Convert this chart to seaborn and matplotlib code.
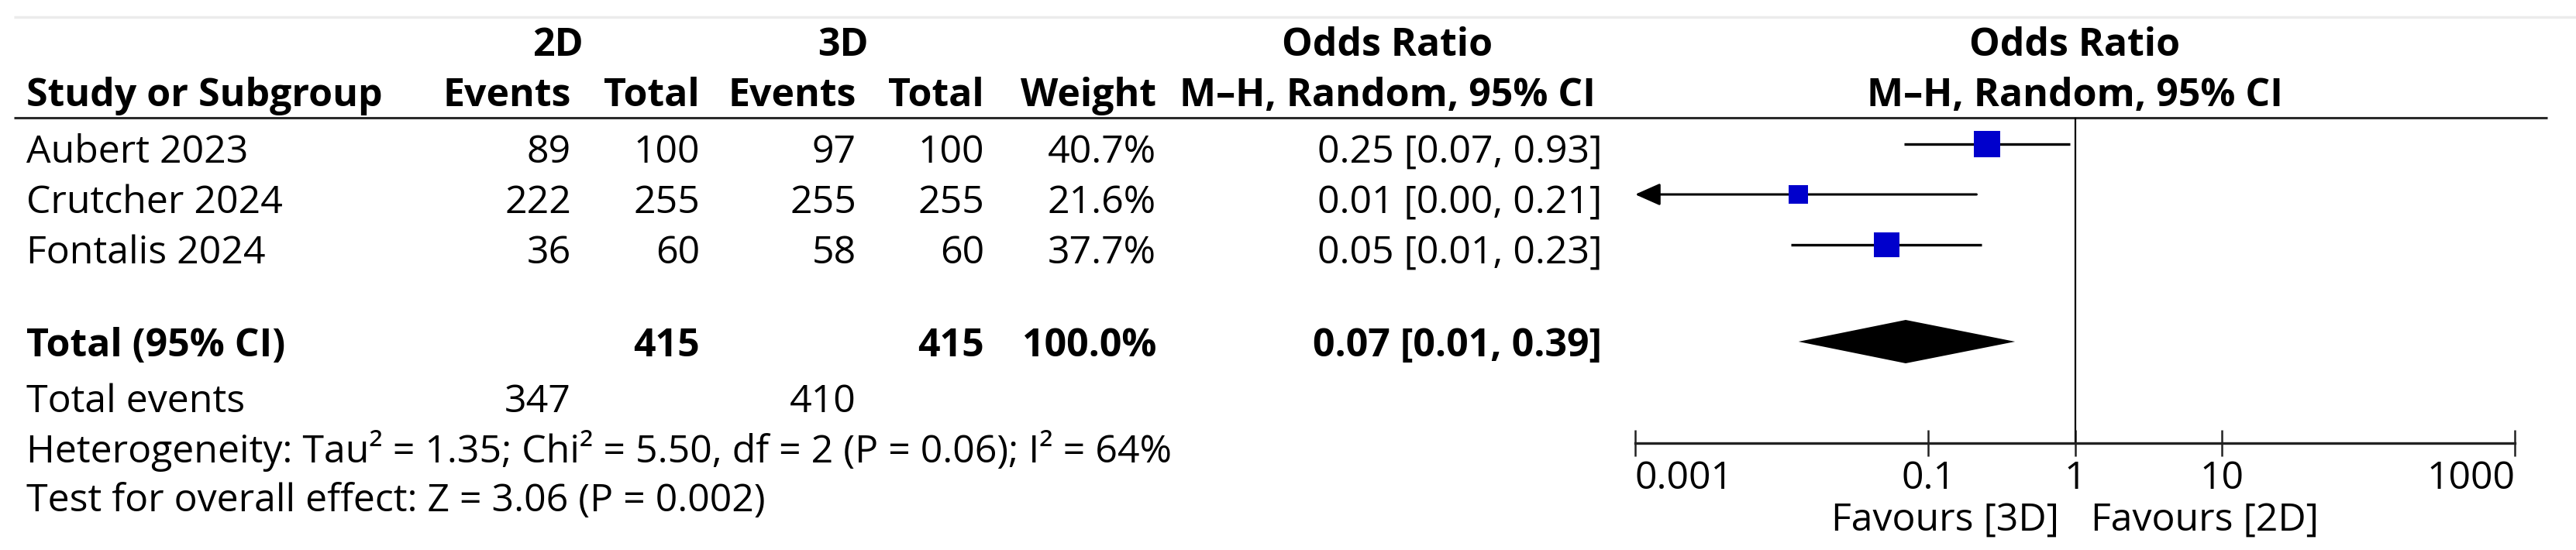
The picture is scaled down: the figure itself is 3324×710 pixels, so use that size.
import numpy as np
import pandas as pd
import seaborn as sns
import matplotlib.pyplot as plt

# forest plot: 2D vs 3D, odds ratio (M-H, random)

studies = ['Aubert 2023', 'Crutcher 2024', 'Fontalis 2024']
events_2d = [89, 222, 36]
total_2d = [100, 255, 60]
events_3d = [97, 255, 58]
total_3d = [100, 255, 60]
weights = [40.7, 21.6, 37.7]
or_est = [0.250, 0.013, 0.052]
or_low = [0.068, 0.0008, 0.0115]
or_high = [0.926, 0.213, 0.232]

pooled_est = 0.070
pooled_low = 0.013
pooled_high = 0.39

het_text = 'Heterogeneity: Tau\u00b2 = 1.35; Chi\u00b2 = 5.50, df = 2 (P = 0.06); I\u00b2 = 64%'
test_text = 'Test for overall effect: Z = 3.06 (P = 0.002)'

tick_vals = [0.001, 0.1, 1, 10, 1000]
tick_labels = ['0.001', '0.1', '1', '10', '1000']

# layout (pixel coords of the 3324x710 canvas)
W, H = 3324, 710
X_STUDY = 34
X_EV2, X_TOT2, X_EV3, X_TOT3, X_WT, X_OR = 737, 903, 1105, 1270, 1492, 2067
X_2D, X_3D, X_ORHEAD = 720, 1088, 1790
PLOT_L, PLOT_R = 2110, 3245
Y_H1, Y_H2 = 72, 137
row_base = [210, 275, 340]
row_mid = [186, 251, 316]
Y_TOTAL, Y_EVENTS, Y_HET, Y_TEST = 460, 532, 597, 660
Y_DIAMOND = 441
Y_RULE, Y_AXIS = 152, 572
FS = 36

sns.set_theme(style='white')
plt.rcParams['font.family'] = ['Open Sans', 'DejaVu Sans']
plt.rcParams['text.color'] = 'black'
plt.rcParams['xtick.color'] = 'black'

fig = plt.figure(figsize=(W / 100, H / 100), dpi=100)

# table part
ax_txt = fig.add_axes([0, 0, 1, 1])
ax_txt.set_xlim(0, W)
ax_txt.set_ylim(H, 0)
ax_txt.axis('off')

ax_txt.hlines(22, 18, W, color='#ebebeb', lw=2.5)
ax_txt.hlines(Y_RULE, 18, 3287, color='#2a2a2a', lw=2.2)

def txt(x, y, s, ha='right', bold=False):
    ax_txt.text(x, y, s, ha=ha, va='baseline', fontsize=FS,
                fontweight='bold' if bold else 'normal')

txt(X_2D, Y_H1, '2D', ha='center', bold=True)
txt(X_3D, Y_H1, '3D', ha='center', bold=True)
txt(X_ORHEAD, Y_H1, 'Odds Ratio', ha='center', bold=True)
txt(X_STUDY, Y_H2, 'Study or Subgroup', ha='left', bold=True)
for x, s in zip([X_EV2, X_TOT2, X_EV3, X_TOT3, X_WT],
                ['Events', 'Total', 'Events', 'Total', 'Weight']):
    txt(x, Y_H2, s, bold=True)
txt(X_ORHEAD, Y_H2, 'M\u2013H, Random, 95% CI', ha='center', bold=True)

for i, name in enumerate(studies):
    y = row_base[i]
    txt(X_STUDY, y, name, ha='left')
    txt(X_EV2, y, str(events_2d[i]))
    txt(X_TOT2, y, str(total_2d[i]))
    txt(X_EV3, y, str(events_3d[i]))
    txt(X_TOT3, y, str(total_3d[i]))
    txt(X_WT, y, f'{weights[i]:.1f}%')
    txt(X_OR, y, f'{or_est[i]:.2f} [{or_low[i]:.2f}, {or_high[i]:.2f}]')

txt(X_STUDY, Y_TOTAL, 'Total (95% CI)', ha='left', bold=True)
txt(X_TOT2, Y_TOTAL, str(sum(total_2d)), bold=True)
txt(X_TOT3, Y_TOTAL, str(sum(total_3d)), bold=True)
txt(X_WT, Y_TOTAL, f'{sum(weights):.1f}%', bold=True)
txt(X_OR, Y_TOTAL, f'{pooled_est:.2f} [{pooled_low:.2f}, {pooled_high:.2f}]', bold=True)

txt(X_STUDY, Y_EVENTS, 'Total events', ha='left')
txt(X_EV2, Y_EVENTS, str(sum(events_2d)))
txt(X_EV3, Y_EVENTS, str(sum(events_3d)))
txt(X_STUDY, Y_HET, het_text, ha='left')
txt(X_STUDY, Y_TEST, test_text, ha='left')

# forest part
ax = fig.add_axes([PLOT_L / W, 0, (PLOT_R - PLOT_L) / W, 1])
ax.patch.set_visible(False)
ax.set_xscale('log')
ax.set_xlim(tick_vals[0], tick_vals[-1])
ax.set_ylim(H, 0)

ax.vlines(1, Y_RULE, Y_AXIS, color='black', lw=1.6)

for i in range(len(studies)):
    y = row_mid[i]
    if or_low[i] < tick_vals[0]:
        ax.annotate('', xy=(tick_vals[0], y), xytext=(or_high[i], y),
                    arrowprops=dict(arrowstyle='-|>,head_length=0.9,head_width=0.4',
                                    color='black', lw=2.2, mutation_scale=22,
                                    shrinkA=0, shrinkB=0))
    else:
        ax.hlines(y, or_low[i], or_high[i], color='black', lw=2.4)

df = pd.DataFrame({'or': or_est, 'y': row_mid, 'w': weights})
sns.scatterplot(data=df, x='or', y='y', size='w', sizes=(0, 600),
                size_norm=(0, max(weights)), marker='s', color='#0000cc',
                linewidth=0, legend=False, ax=ax, zorder=3)

ax.fill([pooled_low, pooled_est, pooled_high, pooled_est],
        [Y_DIAMOND, Y_DIAMOND - 28, Y_DIAMOND, Y_DIAMOND + 28],
        color='black', lw=0)

ax.text(1, Y_H1, 'Odds Ratio', ha='center', va='baseline', fontsize=FS, fontweight='bold')
ax.text(1, Y_H2, 'M\u2013H, Random, 95% CI', ha='center', va='baseline', fontsize=FS, fontweight='bold')

for s in ['left', 'right', 'top']:
    ax.spines[s].set_visible(False)
ax.spines['bottom'].set_position(('data', Y_AXIS))
ax.spines['bottom'].set_color('#222222')
ax.spines['bottom'].set_linewidth(2.4)
ax.set_xticks(tick_vals, tick_labels)
ax.minorticks_off()
ax.tick_params(axis='x', bottom=True, direction='inout', length=25, width=1.8,
               color='#222222', labelsize=FS, pad=3)
ax.tick_params(axis='y', left=False, labelleft=False)
labels = ax.get_xticklabels()
labels[0].set_ha('left')
labels[-1].set_ha('right')
ax.set_xlabel('')
ax.set_ylabel('')

ax.annotate('Favours [3D]', xy=(1, 685), xytext=(-15, 0), textcoords='offset points',
            ha='right', va='baseline', fontsize=FS)
ax.annotate('Favours [2D]', xy=(1, 685), xytext=(15, 0), textcoords='offset points',
            ha='left', va='baseline', fontsize=FS)

fig.savefig('out.png', dpi=100)
